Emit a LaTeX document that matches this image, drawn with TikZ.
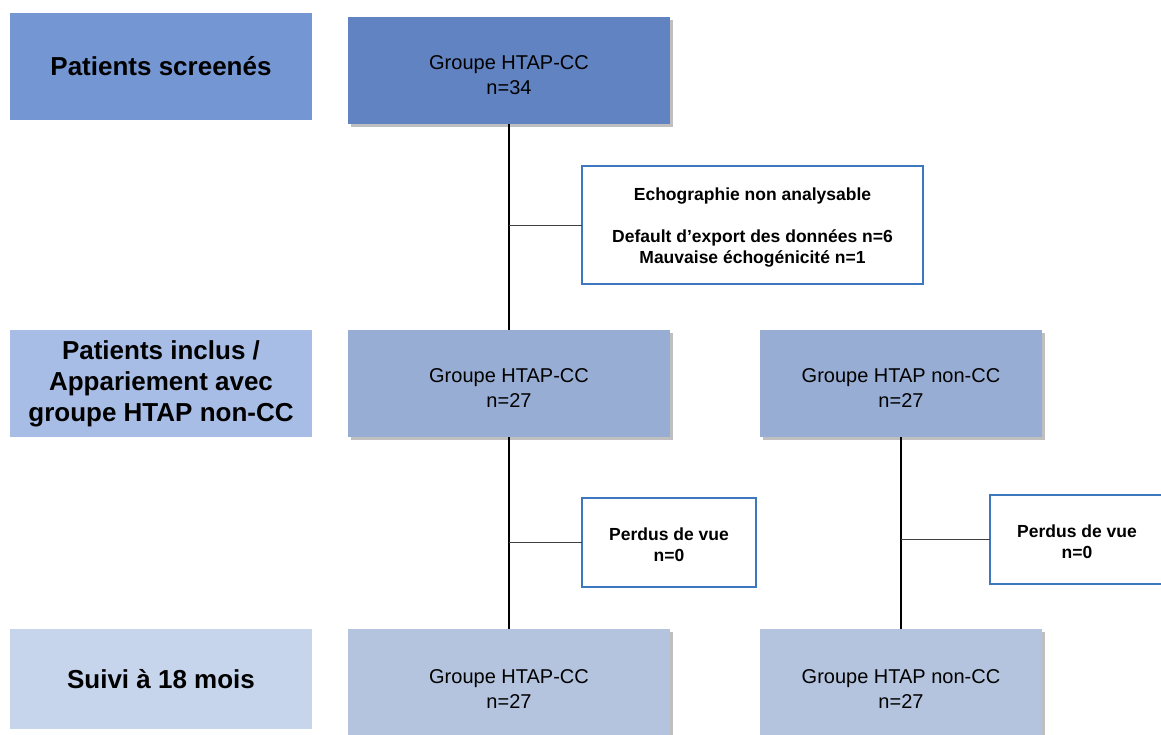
\documentclass[tikz,border=0pt]{standalone}
\usepackage{fontspec}
\setmainfont{Liberation Sans}
\usepackage{tikz}
\usetikzlibrary{shadows}

\definecolor{stepA}{HTML}{7497D4}
\definecolor{stepB}{HTML}{A8BDE5}
\definecolor{stepC}{HTML}{C6D5EC}
\definecolor{grpA}{HTML}{6283C1}
\definecolor{grpB}{HTML}{98ADD4}
\definecolor{grpC}{HTML}{B4C4DE}
\definecolor{exclline}{HTML}{3D78BE}
\newcommand{\grpstrut}{\rule{0pt}{23pt}}
\newcommand{\exclstrut}{\rule{0pt}{17pt}}

\begin{document}
\begin{tikzpicture}[x=1pt,y=-1pt,
  steplabel/.style={fill=#1,inner sep=0pt,outer sep=0pt,minimum width=302pt,align=center,
    font=\fontsize{26}{31}\selectfont\bfseries},
  grpbox/.style={fill=#1,inner sep=0pt,outer sep=0pt,align=center,
    drop shadow={shadow xshift=3pt,shadow yshift=-3pt,opacity=0.25,fill=black},
    font=\fontsize{20}{25}\selectfont},
  exclbox/.style={draw=exclline,line width=2.5pt,fill=white,inner sep=0pt,outer sep=0pt,align=center,
    font=\fontsize{17.5}{21}\selectfont\bfseries},
  flowline/.style={line width=1.4pt,black},
  sideline/.style={line width=1pt,black!75}]
\useasboundingbox (0,0) rectangle (1161,734);
\clip (0,0) rectangle (1161,734);
\fill[white] (0,0) rectangle (1161,734);

%left column
\node[steplabel=stepA,minimum height=107pt] (screen) at (161,66.5) {Patients screenés};
\node[steplabel=stepB,minimum height=107pt] (inclus) at (161,383.5) {Patients inclus /\\Appariement avec\\groupe HTAP non-CC};
\node[steplabel=stepC,minimum height=100pt] (suivi) at (161,679) {Suivi à 18 mois};

%groups
\node[grpbox=grpA,minimum width=322pt,minimum height=107pt] (cc0) at (509,70.5) {\grpstrut Groupe HTAP-CC\\n=34};
\node[grpbox=grpB,minimum width=322pt,minimum height=107pt] (cc1) at (509,383.5) {\grpstrut Groupe HTAP-CC\\n=27};
\node[grpbox=grpB,minimum width=282pt,minimum height=107pt] (ncc1) at (901,383.5) {\grpstrut Groupe HTAP non-CC\\n=27};
\node[grpbox=grpC,minimum width=322pt,minimum height=110pt] (cc2) at (509,684) {\grpstrut Groupe HTAP-CC\\n=27};
\node[grpbox=grpC,minimum width=282pt,minimum height=110pt] (ncc2) at (901,684) {\grpstrut Groupe HTAP non-CC\\n=27};

%exclusions
\node[exclbox,minimum width=341pt,minimum height=118pt] (echo) at (752.5,225) {\exclstrut Echographie non analysable\\[21pt]Default d’export des données n=6\\Mauvaise échogénicité n=1};
\node[exclbox,minimum width=174pt,minimum height=89pt] (perdus1) at (669,542.5) {\exclstrut Perdus de vue\\n=0};
\node[exclbox,minimum width=174pt,minimum height=89pt] (perdus2) at (1077,539.5) {\exclstrut Perdus de vue\\n=0};

%connectors
\draw[flowline] (cc0.south) -- (cc1.north);
\draw[flowline] (cc1.south) -- (cc2.north);
\draw[flowline] (ncc1.south) -- (ncc2.north);
\draw[sideline] (echo.west) -- (echo.west -| cc0.south);
\draw[sideline] (perdus1.west) -- (perdus1.west -| cc1.south);
\draw[sideline] (perdus2.west) -- (perdus2.west -| ncc1.south);
\end{tikzpicture}
\end{document}
